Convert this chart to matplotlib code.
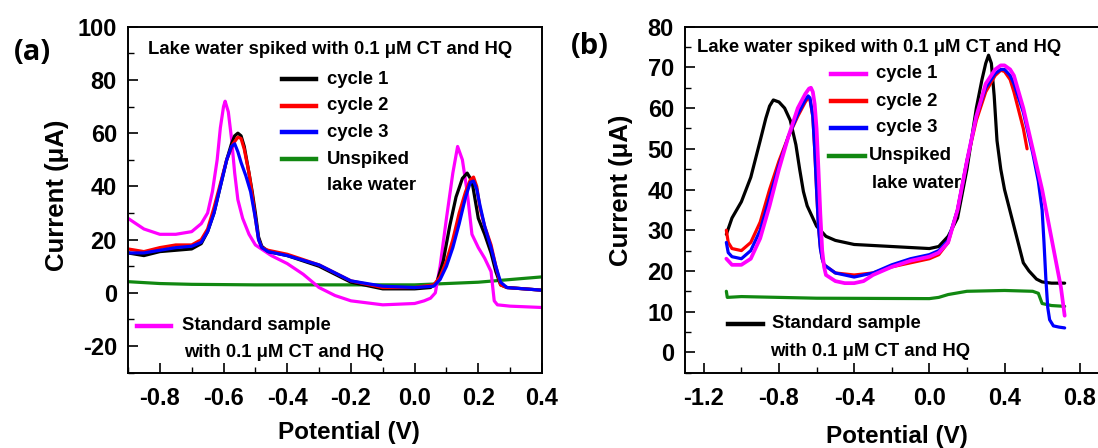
import matplotlib
matplotlib.use("Agg")
import matplotlib.pyplot as plt
from matplotlib.lines import Line2D
from matplotlib.ticker import MultipleLocator, FormatStrFormatter

plt.rcParams['font.family'] = ['Liberation Sans', 'DejaVu Sans']
plt.rcParams['font.weight'] = 'bold'
plt.rcParams['axes.unicode_minus'] = False

# ---------------- Panel (a) data ----------------
a_c1_v = [-0.9, -0.85, -0.8, -0.75, -0.7, -0.67, -0.65, -0.63, -0.61, -0.59, -0.575, -0.565, -0.555, -0.545,
          -0.535, -0.52, -0.51, -0.5, -0.49, -0.48, -0.46,
          -0.4, -0.3, -0.2, -0.1, 0.0, 0.05, 0.07, 0.09, 0.11, 0.13, 0.15, 0.165, 0.18, 0.19, 0.2, 0.22, 0.24,
          0.255, 0.27, 0.29, 0.4]
a_c1_i = [15, 14, 15.5, 16, 16.5, 18.5, 23, 30, 40, 50, 56, 59, 60, 59,
          55, 45, 38, 30, 21, 17.5, 15.5,
          14, 10, 4, 1.5, 1.5, 2, 4, 12, 25, 36, 43, 45, 42, 35, 28, 22, 15,
          8, 3, 2, 1]

a_c2_v = [-0.9, -0.85, -0.8, -0.75, -0.7, -0.67, -0.65, -0.63, -0.61, -0.59, -0.57, -0.555, -0.545,
          -0.535, -0.52, -0.51, -0.5, -0.49, -0.48, -0.46,
          -0.4, -0.3, -0.2, -0.1, 0.0, 0.06, 0.08, 0.1, 0.12, 0.14, 0.16, 0.175, 0.185, 0.195, 0.205,
          0.22, 0.24, 0.255, 0.27, 0.29, 0.4]
a_c2_i = [16.5, 15.5, 17, 18, 18, 20, 24, 32, 41, 50, 56, 58.5, 58,
          54, 45, 37, 28, 20, 17, 16,
          14.5, 10.5, 4.5, 2, 2, 3, 6, 12, 20, 30, 38, 42.5, 43.5, 40, 32,
          25, 18, 10, 3, 2, 1]

a_c3_v = [-0.9, -0.85, -0.8, -0.75, -0.7, -0.67, -0.65, -0.63, -0.61, -0.59, -0.575, -0.565, -0.555,
          -0.545, -0.53, -0.515, -0.5, -0.49, -0.48, -0.46,
          -0.4, -0.3, -0.2, -0.1, 0.0, 0.06, 0.08, 0.1, 0.12, 0.14, 0.16, 0.175, 0.185, 0.195, 0.205,
          0.22, 0.24, 0.255, 0.27, 0.29, 0.4]
a_c3_i = [15, 15, 16, 17, 17.5, 19, 23, 30, 40, 50, 55, 56, 53,
          49, 44, 38, 28, 20, 17, 15.5,
          14, 10.5, 4.5, 2.5, 2, 2.5, 5, 10, 17, 26, 36, 41.5, 42, 39, 33,
          25, 17, 10, 4, 2, 1]

a_un_v = [-0.9, -0.8, -0.7, -0.5, -0.3, 0.0, 0.1, 0.2, 0.3, 0.4]
a_un_i = [4.2, 3.5, 3.2, 3.0, 3.0, 3.0, 3.5, 4.0, 5.0, 6.0]

a_std_v = [-0.9, -0.85, -0.8, -0.75, -0.7, -0.67, -0.65, -0.635, -0.62, -0.61, -0.6, -0.595, -0.585,
           -0.575, -0.565, -0.555, -0.54, -0.52, -0.5,
           -0.45, -0.4, -0.35, -0.3, -0.25, -0.2, -0.1, 0.0, 0.03, 0.05, 0.065, 0.08, 0.1, 0.12, 0.135,
           0.15, 0.165, 0.18, 0.2, 0.22, 0.24, 0.25, 0.26, 0.3, 0.4]
a_std_i = [28, 24, 22, 22, 23, 26, 30, 38, 50, 62, 70, 72, 68,
           58, 45, 35, 28, 22, 18,
           14, 11, 7, 2, -1, -3, -4.5, -4, -3, -2, 0, 10, 28, 45, 55,
           50, 38, 22, 17, 13, 8, -3, -4.5, -5, -5.5]

# ---------------- Panel (b) data ----------------
b_std_v = [-1.08, -1.05, -1.0, -0.95, -0.9, -0.87, -0.85, -0.83, -0.8, -0.77, -0.74, -0.71, -0.69, -0.67,
           -0.65, -0.62, -0.6, -0.55,
           -0.5, -0.4, -0.2, 0.0, 0.05, 0.1, 0.15, 0.2, 0.25, 0.28, 0.3, 0.315, 0.33, 0.345, 0.36, 0.38,
           0.4, 0.45, 0.5, 0.53, 0.57, 0.6, 0.65, 0.72]
b_std_i = [29, 33, 37, 43, 52, 57.5, 60.5, 62, 61.5, 60, 57, 51, 45, 39.5,
           36, 33, 31, 28.5,
           27.5, 26.5, 26, 25.5, 26, 28.5, 33, 45, 60, 67, 71, 73, 71, 63, 52, 45,
           40, 31, 22, 20, 18, 17.3, 17, 17]

b_c1_v = [-1.08, -1.05, -1.0, -0.95, -0.9, -0.85, -0.8, -0.75, -0.7, -0.66, -0.64, -0.63, -0.62, -0.61,
          -0.6, -0.59, -0.58, -0.57, -0.56,
          -0.55, -0.5, -0.45, -0.4, -0.35, -0.3, -0.2, -0.1, 0.0, 0.05, 0.1, 0.15, 0.2, 0.25, 0.3, 0.35,
          0.38, 0.4, 0.43, 0.45, 0.5, 0.55, 0.6, 0.65, 0.7, 0.72]
b_c1_i = [23, 21.5, 21.5, 23, 28, 36, 45, 53, 60, 63.5, 64.8, 65, 64, 61,
          55, 45, 34, 25, 21,
          19, 17.5, 17, 17, 17.5, 19, 21, 22.5, 23.5, 24.5, 27, 35, 47, 58, 66, 69.5,
          70.5, 70.5, 69.5, 68, 60, 50, 40, 28, 16, 9]

b_c2_v = [-1.08, -1.07, -1.05, -1.0, -0.95, -0.9, -0.85, -0.8, -0.75, -0.7, -0.66, -0.645, -0.635, -0.62,
          -0.61, -0.6, -0.59, -0.58, -0.57, -0.56, -0.5, -0.4, -0.3, -0.2, -0.1, 0.0, 0.05, 0.1, 0.15, 0.2,
          0.25, 0.3, 0.35, 0.38, 0.4, 0.43, 0.45, 0.5, 0.52]
b_c2_i = [30, 27, 25.5, 25, 27, 32, 40, 47, 53, 58, 61.5, 62.5, 62, 58,
          50, 40, 31, 26, 23, 21.5, 19.5, 19, 19.5, 21, 22, 23, 24, 27, 35, 47,
          57, 64, 68, 69.3, 69, 67, 64, 55, 50]

b_c3_v = [-1.08, -1.07, -1.05, -1.0, -0.95, -0.9, -0.85, -0.8, -0.75, -0.7, -0.66, -0.645, -0.635, -0.62,
          -0.61, -0.6, -0.59, -0.58, -0.57, -0.56, -0.5, -0.4, -0.3, -0.2, -0.1, 0.0, 0.05, 0.1, 0.15, 0.2,
          0.25, 0.3, 0.35, 0.38, 0.4, 0.43, 0.45, 0.5, 0.55, 0.58, 0.6, 0.61, 0.62, 0.63, 0.64, 0.66,
          0.69, 0.72]
b_c3_i = [27, 24.5, 23.5, 23, 25, 30, 38, 46, 53, 58.5, 62, 63, 62.5, 58,
          50, 40, 31, 25.5, 23, 21.5, 19.5, 18.5, 19.5, 21.5, 23, 24, 25, 27.5, 35, 47,
          58, 65, 68.5, 69.5, 69.5, 68, 66, 59, 49, 42, 35, 27, 18, 11, 8, 6.5,
          6.2, 6]

b_un_v = [-1.08, -1.075, -1.0, -0.6, 0.0, 0.05, 0.1, 0.2, 0.4, 0.55, 0.58, 0.6, 0.65, 0.72]
b_un_i = [15, 13.5, 13.7, 13.3, 13.2, 13.5, 14.2, 15, 15.2, 15, 14.5, 12, 11.5, 11.3]

BLACK, RED, BLUE, GREEN, MAGENTA = '#000000', '#ff0000', '#0000ff', '#118811', '#ff00ff'

W, H = 1098, 448
fig = plt.figure(figsize=(W / 100, H / 100), dpi=100)
fig.patch.set_facecolor('white')


def fx(px):
    return px / W


def fy(py):
    return 1 - py / H


ax_a = fig.add_axes([fx(128), fy(372.7), fx(542) - fx(128), (372.7 - 26.7) / H])
ax_b = fig.add_axes([fx(685), fy(372.7), 413.5 / W, (372.7 - 26.7) / H])

lw = 2.3
kw = dict(lw=lw, solid_joinstyle='round', solid_capstyle='round')
ax_a.plot(a_un_v, a_un_i, color=GREEN, **kw)
ax_a.plot(a_std_v, a_std_i, color=MAGENTA, **kw)
ax_a.plot(a_c1_v, a_c1_i, color=BLACK, **kw)
ax_a.plot(a_c2_v, a_c2_i, color=RED, **kw)
ax_a.plot(a_c3_v, a_c3_i, color=BLUE, **kw)

ax_b.plot(b_un_v, b_un_i, color=GREEN, **kw)
ax_b.plot(b_std_v, b_std_i, color=BLACK, **kw)
ax_b.plot(b_c2_v, b_c2_i, color=RED, **kw)
ax_b.plot(b_c3_v, b_c3_i, color=BLUE, **kw)
ax_b.plot(b_c1_v, b_c1_i, color=MAGENTA, lw=lw + 0.4, solid_joinstyle='round', solid_capstyle='round')

ax_a.set_xlim(-0.9, 0.4)
ax_a.set_ylim(-30, 100)
ax_a.xaxis.set_major_locator(MultipleLocator(0.2))
ax_a.xaxis.set_minor_locator(MultipleLocator(0.1))
ax_a.yaxis.set_major_locator(MultipleLocator(20))
ax_a.yaxis.set_minor_locator(MultipleLocator(10))

ax_b.set_xlim(-1.3, 0.9)
ax_b.set_ylim(-5, 80)
ax_b.xaxis.set_major_locator(MultipleLocator(0.4))
ax_b.xaxis.set_minor_locator(MultipleLocator(0.2))
ax_b.yaxis.set_major_locator(MultipleLocator(10))
ax_b.yaxis.set_minor_locator(MultipleLocator(5))
ax_b.spines['right'].set_visible(False)

for ax in (ax_a, ax_b):
    ax.xaxis.set_major_formatter(FormatStrFormatter('%.1f'))
    ax.tick_params(which='major', direction='in', length=7, width=1.2, labelsize=17, pad=8)
    ax.tick_params(which='minor', direction='in', length=4, width=1.0)
    ax.tick_params(axis='x', which='major', pad=10)
    for lab in ax.get_xticklabels() + ax.get_yticklabels():
        lab.set_fontweight('bold')
    for s in ax.spines.values():
        s.set_linewidth(1.4)

# axis labels
fig.text(fx(349), fy(432), 'Potential (V)', fontsize=17.5, fontweight='bold', ha='center', va='center')
fig.text(fx(897), fy(436), 'Potential (V)', fontsize=17.5, fontweight='bold', ha='center', va='center')
fig.text(fx(57), fy(195), 'Current (\u03bcA)', fontsize=18.5, fontweight='bold', ha='center', va='center',
         rotation=90)
fig.text(fx(621), fy(190), 'Current (\u03bcA)', fontsize=18.5, fontweight='bold', ha='center', va='center',
         rotation=90)

# panel labels
fig.text(fx(32), fy(52), '(a)', fontsize=21, fontweight='bold', ha='center', va='center',
         family=['Open Sans', 'DejaVu Sans'])
fig.text(fx(590), fy(46), '(b)', fontsize=21, fontweight='bold', ha='center', va='center',
         family=['Open Sans', 'DejaVu Sans'])

fs = 13.3
title = 'Lake water spiked with 0.1 \u03bcM CT and HQ'
fig.text(fx(148), fy(50), title, fontsize=fs, fontweight='bold', ha='left', va='center')
fig.text(fx(697), fy(47), title, fontsize=fs, fontweight='bold', ha='left', va='center')


def legline(x0, x1, y, color):
    fig.add_artist(Line2D([fx(x0), fx(x1)], [fy(y), fy(y)], color=color, lw=3.2,
                          transform=fig.transFigure))


# legend (a)
leg_a = [('cycle 1', BLACK, 79), ('cycle 2', RED, 106), ('cycle 3', BLUE, 132), ('Unspiked', GREEN, 159)]
for txt, col, y in leg_a:
    legline(282, 316, y, col)
    fig.text(fx(327), fy(y), txt, fontsize=fs, fontweight='bold', ha='left', va='center')
fig.text(fx(327), fy(185), 'lake water', fontsize=fs, fontweight='bold', ha='left', va='center')
legline(137, 171, 326, MAGENTA)
fig.text(fx(182), fy(326), 'Standard sample', fontsize=fs, fontweight='bold', ha='left', va='center')
fig.text(fx(184), fy(352), 'with 0.1 \u03bcM CT and HQ', fontsize=fs, fontweight='bold', ha='left', va='center')

# legend (b)
leg_b = [('cycle 1', MAGENTA, 74), ('cycle 2', RED, 101), ('cycle 3', BLUE, 128)]
for txt, col, y in leg_b:
    legline(831, 866, y, col)
    fig.text(fx(876), fy(y), txt, fontsize=fs, fontweight='bold', ha='left', va='center')
legline(829, 865, 156, GREEN)
fig.text(fx(869), fy(156), 'Unspiked', fontsize=fs, fontweight='bold', ha='left', va='center')
fig.text(fx(872), fy(183), 'lake water', fontsize=fs, fontweight='bold', ha='left', va='center')
legline(728, 763, 324, BLACK)
fig.text(fx(772), fy(324), 'Standard sample', fontsize=fs, fontweight='bold', ha='left', va='center')
fig.text(fx(770), fy(351), 'with 0.1 \u03bcM CT and HQ', fontsize=fs, fontweight='bold', ha='left', va='center')

fig.savefig('out.png', dpi=100)
